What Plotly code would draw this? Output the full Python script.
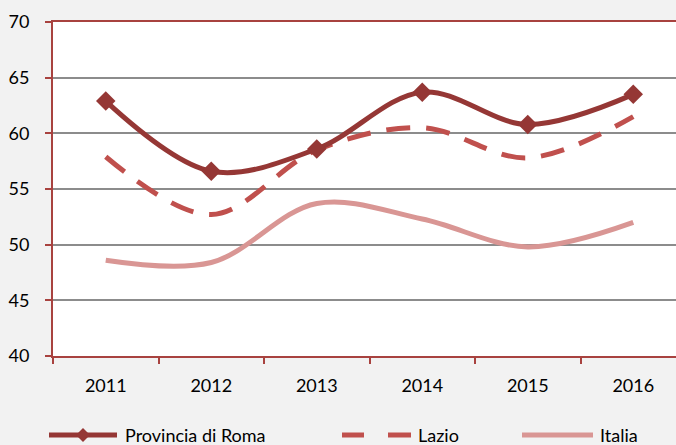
import plotly.graph_objects as go

years = ["2011", "2012", "2013", "2014", "2015", "2016"]
roma = [62.9, 56.6, 58.6, 63.7, 60.8, 63.5]
lazio = [57.9, 52.7, 58.5, 60.5, 57.8, 61.5]
italia = [48.6, 48.4, 53.7, 52.3, 49.8, 52.0]
names = ["Provincia di Roma", "Lazio", "Italia"]
colors = ["#953735", "#c0504d", "#d99694"]
yticks = [40, 45, 50, 55, 60, 65, 70]

W, H = 676, 445
L, T, B, R = 53, 22, 89, 0
PW, PH = W - L - R, H - T - B

FONT = "Lato, Open Sans, sans-serif"
FS = 18

fig = go.Figure()
fig.add_trace(go.Scatter(x=years, y=italia, mode="lines", name=names[2],
                         line=dict(color=colors[2], width=5, shape="spline", smoothing=1.0)))
fig.add_trace(go.Scatter(x=years, y=lazio, mode="lines", name=names[1],
                         line=dict(color=colors[1], width=5, shape="spline", smoothing=1.0,
                                   dash="24px,16px")))
fig.add_trace(go.Scatter(x=years, y=roma, mode="lines+markers", name=names[0],
                         line=dict(color=colors[0], width=5, shape="spline", smoothing=1.0),
                         marker=dict(symbol="diamond", size=15, color=colors[0])))

axis_red = "#a8423f"
fig.update_layout(
    width=W, height=H,
    margin=dict(l=L, r=R, t=T, b=B, autoexpand=False),
    paper_bgcolor="#f2f2f2", plot_bgcolor="#ffffff",
    showlegend=False,
    font=dict(family=FONT, size=FS, color="#000000"),
    xaxis=dict(type="category", range=[-0.5, -0.5 + PW / 105.5],
               showline=True, linecolor=axis_red, linewidth=2, mirror=True,
               ticks="outside", tickson="boundaries", ticklen=6, tickcolor=axis_red,
               tickwidth=2, showgrid=False, ticklabelstandoff=12, automargin=False,
               tickfont=dict(family=FONT, size=FS)),
    yaxis=dict(range=[40, 70], tickvals=yticks,
               showline=True, linecolor=axis_red, linewidth=2,
               ticks="outside", ticklen=6, tickcolor=axis_red, tickwidth=2,
               showgrid=True, gridcolor="#8c8c8c", gridwidth=1.5,
               zeroline=False, ticklabelstandoff=12, automargin=False,
               tickfont=dict(family=FONT, size=FS)),
)

def px(xp):
    return (xp - L) / PW

def py(yp):
    return (H - B - yp) / PH

ly = py(435)
shapes = []
annotations = []
shapes.append(dict(type="line", xref="paper", yref="paper", x0=px(49), x1=px(117), y0=ly, y1=ly,
                   line=dict(color=colors[0], width=5)))
d = 7
shapes.append(dict(type="path", xref="paper", yref="paper",
                   path=f"M {px(83 - d)} {ly} L {px(83)} {py(435 - d)} L {px(83 + d)} {ly} L {px(83)} {py(435 + d)} Z",
                   fillcolor=colors[0], line=dict(width=0)))
annotations.append(dict(xref="paper", yref="paper", x=px(123), y=ly, text=names[0],
                        showarrow=False, xanchor="left", yanchor="middle",
                        font=dict(family=FONT, size=FS)))
shapes.append(dict(type="line", xref="paper", yref="paper", x0=px(342), x1=px(364), y0=ly, y1=ly,
                   line=dict(color=colors[1], width=5)))
shapes.append(dict(type="line", xref="paper", yref="paper", x0=px(388), x1=px(411), y0=ly, y1=ly,
                   line=dict(color=colors[1], width=5)))
annotations.append(dict(xref="paper", yref="paper", x=px(416), y=ly, text=names[1],
                        showarrow=False, xanchor="left", yanchor="middle",
                        font=dict(family=FONT, size=FS)))
shapes.append(dict(type="line", xref="paper", yref="paper", x0=px(522), x1=px(593), y0=ly, y1=ly,
                   line=dict(color=colors[2], width=5)))
annotations.append(dict(xref="paper", yref="paper", x=px(598), y=ly, text=names[2],
                        showarrow=False, xanchor="left", yanchor="middle",
                        font=dict(family=FONT, size=FS)))
fig.update_layout(shapes=shapes, annotations=annotations)

post = (
    "var s=document.createElement('style');"
    "s.textContent='html,body{margin:0!important;padding:0!important;overflow:hidden!important;}"
    "::-webkit-scrollbar{width:0!important;height:0!important;display:none!important;}';"
    "document.head.appendChild(s);"
)
fig.write_html("out.html", config={"displayModeBar": False}, post_script=post)
